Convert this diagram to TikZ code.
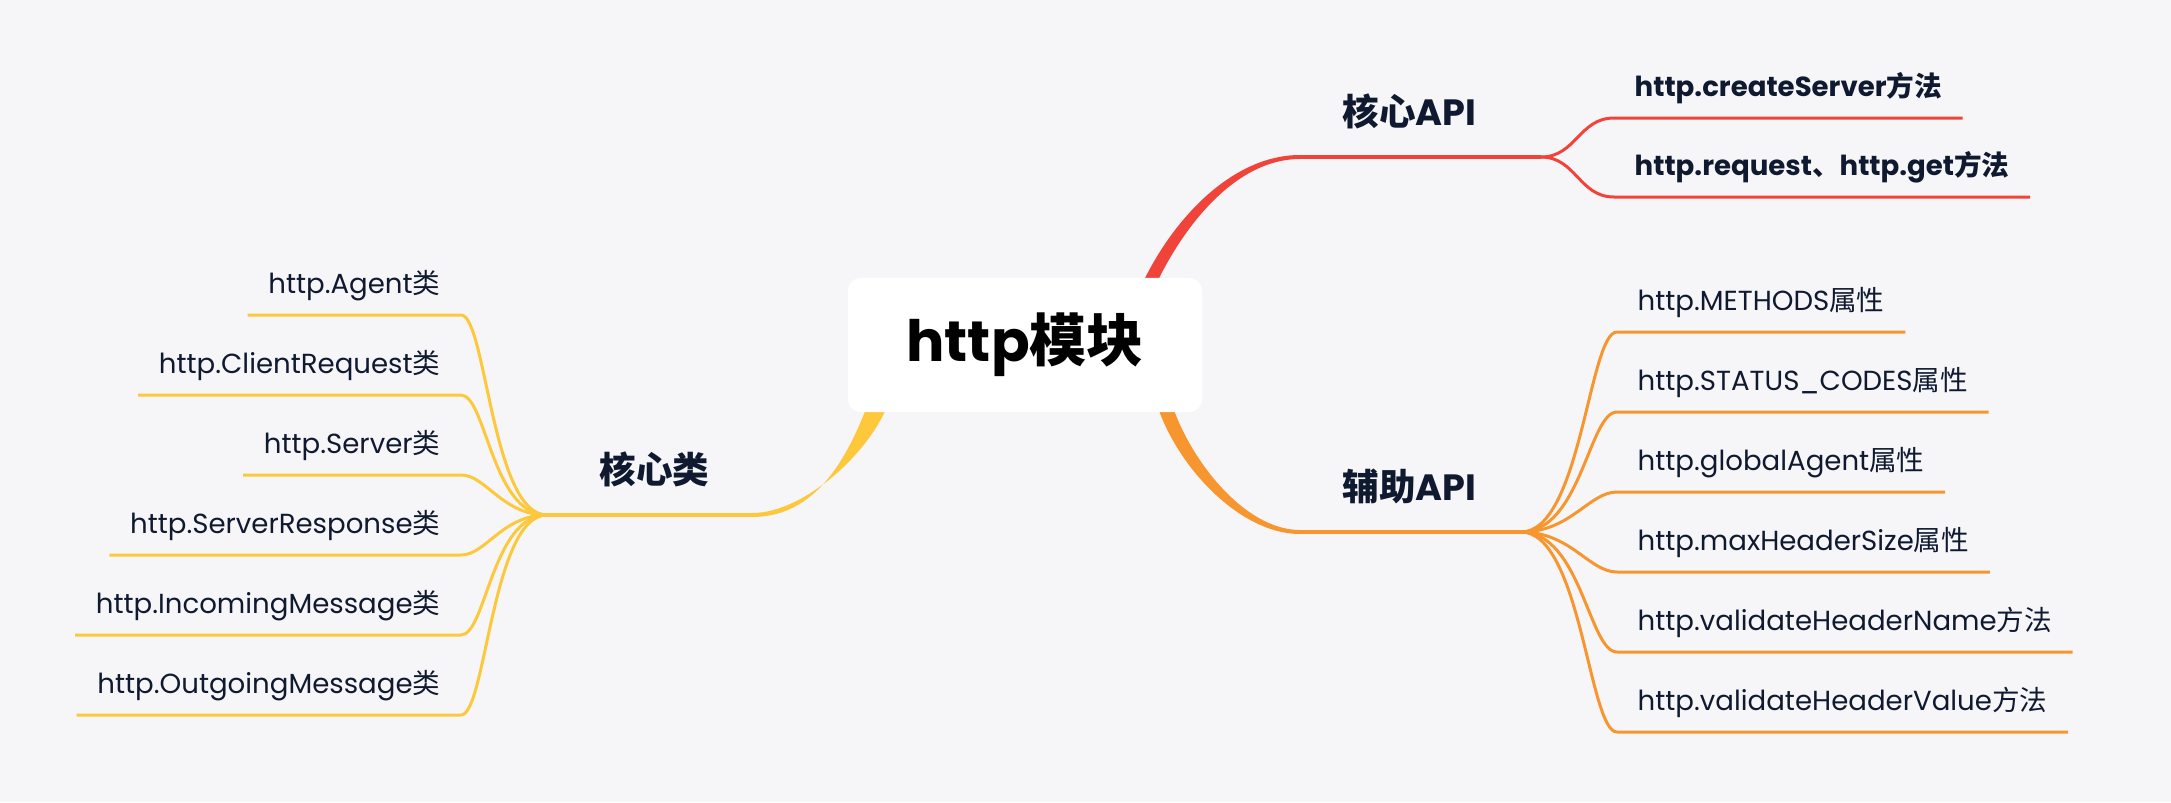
\documentclass[tikz,border=0pt]{standalone}
\usepackage{fontspec}
\setmainfont{Poppins}
\newfontfamily\cjk{Noto Sans CJK SC}
\usetikzlibrary{calc}
\pgfdeclarelayer{back}
\pgfdeclarelayer{bg}
\pgfsetlayers{back,bg,main}

\definecolor{bgcol}{HTML}{F6F6F8}
\definecolor{apired}{HTML}{F0443A}
\definecolor{auxorange}{HTML}{F7952E}
\definecolor{clsyellow}{HTML}{FDC83C}
\definecolor{inkcol}{HTML}{0F1A31}

\tikzset{
	rootbox/.style={fill=white, rounded corners=0.13cm, minimum width=3.54cm, minimum height=1.34cm, font=\fontsize{16.2}{18}\selectfont\bfseries, text=black},
	branchnode/.style={inner xsep=0.42cm, inner ysep=0, text height=0.3cm, text depth=0.31cm, font=\fontsize{10.4}{12}\selectfont\bfseries, text=inkcol},
	leafnode/.style={inner xsep=0.2cm, inner ysep=0, text height=0.2cm, text depth=0.21cm, font=\fontsize{7.85}{9}\selectfont, text=inkcol},
	boldleaf/.style={leafnode, font=\fontsize{7.85}{9}\selectfont\bfseries},
	redline/.style={draw=apired, line width=0.85pt},
	orangeline/.style={draw=auxorange, line width=0.85pt},
	yellowline/.style={draw=clsyellow, line width=0.85pt}
}

\begin{document}
\begin{tikzpicture}[x=0.01cm, y=-0.01cm]
		\useasboundingbox (0,0) rectangle (2171,802);
		\begin{pgfonlayer}{back}
			\fill [bgcol] (0,0) rectangle (2171,802);
		\end{pgfonlayer}
		%centre
		\node [rootbox] (root) at (1025,345) {http{\cjk 模块}};
		%core API
		\node [branchnode, anchor=south west] (api) at (1300,157) {{\cjk 核心}API};
		\coordinate (apifork) at (1541,157);
		\node [boldleaf, anchor=south west] (create) at (1614,118) {http.createServer{\cjk 方法}};
		\node [boldleaf, anchor=south west] (request) at (1614,197) {http.request{\cjk 、}http.get{\cjk 方法}};
		%helper API
		\node [branchnode, anchor=south west] (aux) at (1300,532) {{\cjk 辅助}API};
		\coordinate (auxfork) at (1521,532);
		\node [leafnode, anchor=south west] (methods) at (1617,332) {http.METHODS{\cjk 属性}};
		\node [leafnode, anchor=south west] (codes) at (1617,412) {http.STATUS\_CODES{\cjk 属性}};
		\node [leafnode, anchor=south west] (global) at (1617,492) {http.globalAgent{\cjk 属性}};
		\node [leafnode, anchor=south west] (maxsize) at (1617,572) {http.maxHeaderSize{\cjk 属性}};
		\node [leafnode, anchor=south west] (vname) at (1617,652) {http.validateHeaderName{\cjk 方法}};
		\node [leafnode, anchor=south west] (vvalue) at (1617,732) {http.validateHeaderValue{\cjk 方法}};
		%core classes
		\node [branchnode, anchor=south east] (cls) at (752,515) {{\cjk 核心类}};
		\coordinate (clsfork) at (547,515);
		\node [leafnode, anchor=south east] (agent) at (461,315) {http.Agent{\cjk 类}};
		\node [leafnode, anchor=south east] (client) at (461,395) {http.ClientRequest{\cjk 类}};
		\node [leafnode, anchor=south east] (server) at (461,475) {http.Server{\cjk 类}};
		\node [leafnode, anchor=south east] (response) at (461,555) {http.ServerResponse{\cjk 类}};
		\node [leafnode, anchor=south east] (incoming) at (461,635) {http.IncomingMessage{\cjk 类}};
		\node [leafnode, anchor=south east] (outgoing) at (461,715) {http.OutgoingMessage{\cjk 类}};

		\begin{pgfonlayer}{bg}
			%thick branches
			\fill [apired] ($(root.north east)+(-64,14)$) .. controls +(30,-68) and +(-70,0) .. ($(api.south west)+(0,-2)$) -- ($(api.south west)+(0,2)$) .. controls +(-66,0) and +(28,-62) .. ($(root.north east)+(-50,14)$) -- cycle;
			\fill [auxorange] ($(root.south east)+(-47,-12)$) .. controls +(18,62) and +(-62,0) .. ($(aux.south west)+(0,2)$) -- ($(aux.south west)+(0,-2)$) .. controls +(-56,0) and +(18,58) .. ($(root.south east)+(-32,-12)$) -- cycle;
			\fill [clsyellow] ($(root.south west)+(22,-12)$) .. controls +(-22,58) and +(64,0) .. ($(cls.south east)+(0,2)$) -- ($(cls.south east)+(0,-2)$) .. controls +(54,0) and +(-16,48) .. ($(root.south west)+(42,-12)$) -- cycle;
		\end{pgfonlayer}

		%red
		\draw [redline, line width=1.1pt] (api.south west) -- (apifork);
		\draw [redline] (apifork) .. controls +(35,0) and +(-35,0) .. (create.south west) -- (create.south east);
		\draw [redline] (apifork) .. controls +(35,0) and +(-35,0) .. (request.south west) -- (request.south east);
		%orange
		\draw [orangeline, line width=1.1pt] (aux.south west) -- (auxfork);
		\draw [orangeline] (auxfork) .. controls +(60,0) and +(-28,0) .. (methods.south west) -- (methods.south east);
		\draw [orangeline] (auxfork) .. controls +(60,0) and +(-28,0) .. (codes.south west) -- (codes.south east);
		\draw [orangeline] (auxfork) .. controls +(50,0) and +(-28,0) .. (global.south west) -- (global.south east);
		\draw [orangeline] (auxfork) .. controls +(50,0) and +(-28,0) .. (maxsize.south west) -- (maxsize.south east);
		\draw [orangeline] (auxfork) .. controls +(60,0) and +(-28,0) .. (vname.south west) -- (vname.south east);
		\draw [orangeline] (auxfork) .. controls +(60,0) and +(-28,0) .. (vvalue.south west) -- (vvalue.south east);
		%yellow
		\draw [yellowline, line width=1.1pt] (cls.south east) -- (clsfork);
		\draw [yellowline] (clsfork) .. controls +(-55,0) and +(25,0) .. (agent.south east) -- (agent.south west);
		\draw [yellowline] (clsfork) .. controls +(-55,0) and +(25,0) .. (client.south east) -- (client.south west);
		\draw [yellowline] (clsfork) .. controls +(-45,0) and +(25,0) .. (server.south east) -- (server.south west);
		\draw [yellowline] (clsfork) .. controls +(-45,0) and +(25,0) .. (response.south east) -- (response.south west);
		\draw [yellowline] (clsfork) .. controls +(-55,0) and +(25,0) .. (incoming.south east) -- (incoming.south west);
		\draw [yellowline] (clsfork) .. controls +(-55,0) and +(25,0) .. (outgoing.south east) -- (outgoing.south west);
\end{tikzpicture}
\end{document}
